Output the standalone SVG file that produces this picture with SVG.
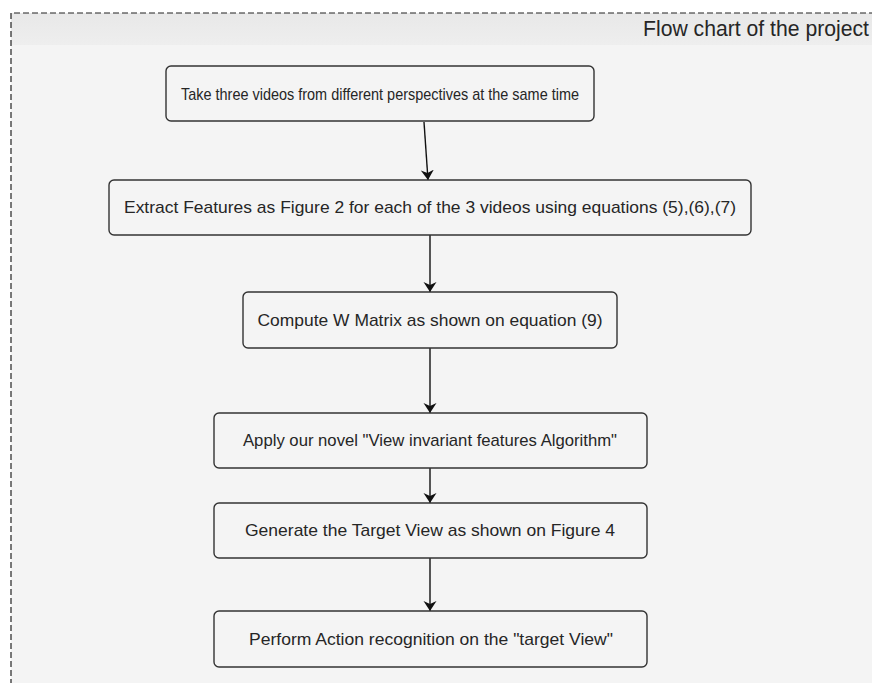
<svg xmlns="http://www.w3.org/2000/svg" width="872" height="683" viewBox="0 0 872 683">
<defs>
<marker id="ah" viewBox="0 0 10 14" refX="10" refY="7" markerWidth="10" markerHeight="14" markerUnits="userSpaceOnUse" orient="auto">
<path d="M0,0.5 L10,7 L0,13.5 L3,7 Z" fill="#111"/>
</marker>
<linearGradient id="hdr" x1="0" y1="0" x2="0" y2="1">
<stop offset="0" stop-color="#e8e8e8"/>
<stop offset="1" stop-color="#eeeeee"/>
</linearGradient>
</defs>
<style>
.node rect{fill:#f4f4f4;stroke:#333;stroke-width:1.4}
text{font-family:"Liberation Sans",Arial,sans-serif;fill:#262626}
.lbl{font-size:17px;text-anchor:middle}
.conn line{stroke:#111;stroke-width:1.4;marker-end:url(#ah)}
</style>
<rect x="0" y="0" width="872" height="683" fill="#ffffff"/>
<g id="container">
<rect x="11" y="13" width="880" height="690" fill="#f4f4f4"/>
<rect x="11" y="13" width="880" height="32" fill="url(#hdr)"/>
<path d="M11,703 L11,13 L891,13" fill="none" stroke="#222" stroke-width="1.2" stroke-dasharray="6,3"/>
<text x="643" y="36" font-size="21.5" textLength="226" lengthAdjust="spacingAndGlyphs">Flow chart of the project</text>
</g>
<g class="conn" id="connectors">
<line x1="424" y1="122" x2="428" y2="180"/>
<line x1="430" y1="235" x2="430" y2="292"/>
<line x1="430" y1="348" x2="430" y2="413"/>
<line x1="430" y1="468" x2="430" y2="503"/>
<line x1="430" y1="558" x2="430" y2="611"/>
</g>
<g class="node" id="n1"><rect x="166" y="66" width="428" height="55" rx="5"/><text class="lbl" x="380" y="100" textLength="398" lengthAdjust="spacingAndGlyphs">Take three videos from different perspectives at the same time</text></g>
<g class="node" id="n2"><rect x="109" y="180" width="642" height="55" rx="5"/><text class="lbl" x="430" y="213" textLength="612" lengthAdjust="spacingAndGlyphs">Extract Features as Figure 2 for each of the 3 videos using equations (5),(6),(7)</text></g>
<g class="node" id="n3"><rect x="243" y="292" width="374" height="56" rx="5"/><text class="lbl" x="430" y="326" textLength="345" lengthAdjust="spacingAndGlyphs">Compute W Matrix as shown on equation (9)</text></g>
<g class="node" id="n4"><rect x="214" y="413" width="433" height="55" rx="5"/><text class="lbl" x="430" y="446" textLength="374" lengthAdjust="spacingAndGlyphs">Apply our novel "View invariant features Algorithm"</text></g>
<g class="node" id="n5"><rect x="214" y="503" width="433" height="55" rx="5"/><text class="lbl" x="430" y="536" textLength="370" lengthAdjust="spacingAndGlyphs">Generate the Target View as shown on Figure 4</text></g>
<g class="node" id="n6"><rect x="214" y="611" width="433" height="56" rx="5"/><text class="lbl" x="431" y="645" textLength="364" lengthAdjust="spacingAndGlyphs">Perform Action recognition on the "target View"</text></g>
</svg>
